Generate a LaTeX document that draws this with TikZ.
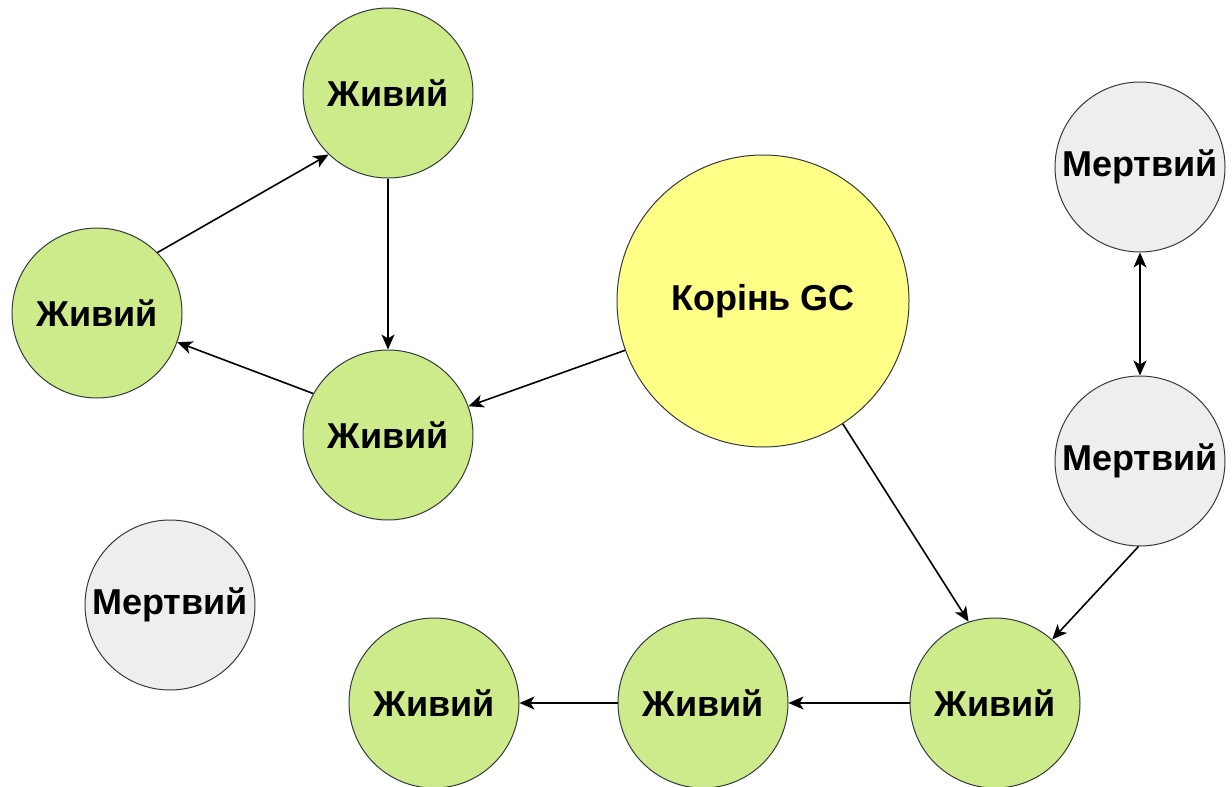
\documentclass[tikz,border=0pt]{standalone}
\usepackage{fontspec}
\setmainfont{Liberation Sans}
\usepackage{tikz}
\usetikzlibrary{arrows.meta,positioning}
\definecolor{livecol}{HTML}{CDEB8B}
\definecolor{rootcol}{HTML}{FFFF88}
\definecolor{deadcol}{HTML}{EEEEEE}
\definecolor{edgecol}{HTML}{36393D}

\begin{document}
\begin{tikzpicture}[
  x=1pt,y=-1pt,
  font=\fontsize{36}{42}\selectfont\bfseries,
  obj/.style={circle,draw=edgecol,line width=1pt,minimum size=170pt,inner sep=0pt},
  live/.style={obj,fill=livecol},
  dead/.style={obj,fill=deadcol},
  gcroot/.style={obj,fill=rootcol,minimum size=292pt},
  ref/.style={->,line width=1.6pt},
  >={Stealth[length=15pt,width=13pt,inset=4pt]}]
\useasboundingbox (0,0) rectangle (1232,787);

% live objects
\node[live] (top) at (388,93) {Живий};
\node[live] (left) at (97,313) {Живий};
\node[live] (mid) at (388,435) {Живий};
\node[live] (botR) at (995,703) {Живий};
\node[live] (botM) at (703,703) {Живий};
\node[live,left=98pt of botM] (botL) {Живий};

% root
\node[gcroot] (root) at (763,301) {Корінь GC};

% dead objects
\node[dead] (deadA) at (1140,167) {Мертвий};
\node[dead,below=123pt of deadA] (deadB) {Мертвий};
\node[dead] (deadC) at (170,605) {Мертвий};

% references
\draw[ref] (left.45) -- (top.-134);
\draw[ref] (top) -- (mid);
\draw[ref] (mid.151) -- (left.-20);
\draw[ref] (root) -- (mid);
\draw[ref] (root.-57) -- (botR.108);
\draw[ref] (deadB.-91) -- (botR.48);
\draw[ref,<->] (deadA) -- (deadB);
\draw[ref] (botR) -- (botM);
\draw[ref] (botM) -- (botL);
\end{tikzpicture}
\end{document}
